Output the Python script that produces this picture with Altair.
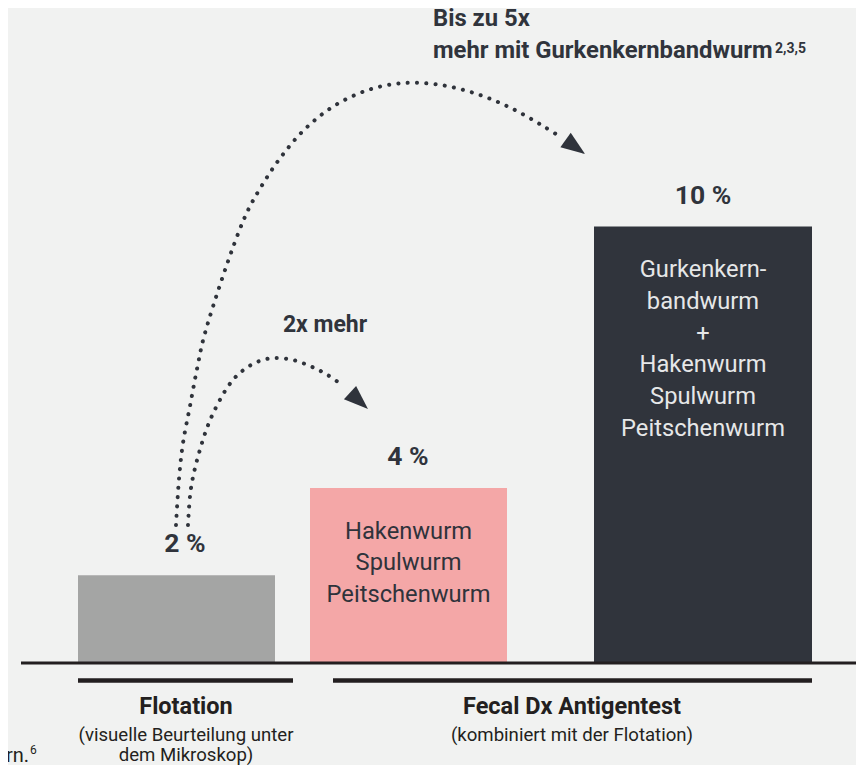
import altair as alt
import pandas as pd

# ---------------- data ----------------
categories = ["Flotation", "Fecal Dx (Haken-, Spul-, Peitschenwurm)", "Fecal Dx (+ Gurkenkernbandwurm)"]
values = [2, 4, 10]
value_labels = ["2 %", "4 %", "10 %"]
bar_lines = [
    [],
    ["Hakenwurm", "Spulwurm", "Peitschenwurm"],
    ["Gurkenkern-", "bandwurm", "+", "Hakenwurm", "Spulwurm", "Peitschenwurm"],
]
group_titles = ["Flotation", "Fecal Dx Antigentest"]
group_subtitles = [["(visuelle Beurteilung unter", "dem Mikroskop)"], ["(kombiniert mit der Flotation)"]]
note_big = ["Bis zu 5x", "mehr mit Gurkenkernbandwurm"]
note_big_refs = "2,3,5"
note_small = "2x mehr"
footnote_tail = "rn."
footnote_ref = "6"

# dotted arcs, traced in page pixels
big_arc_x = [176, 179, 183, 190, 197, 205, 244, 261, 281, 305, 334, 368, 404, 441, 477, 511, 543, 559]
big_arc_y = [525, 479, 443, 406, 369, 333, 219, 187, 157, 129, 106, 90, 83, 85, 94, 108, 126, 136]
small_arc_x = [188, 191, 199, 211, 229, 241, 257, 274, 293, 310, 326, 342]
small_arc_y = [525, 488, 453, 418, 385, 372, 362, 358, 360, 366, 374, 385]

# ---------------- layout (page pixels) ----------------
W, H = 848, 757
PPU = 43.6          # pixels per percentage point
ZERO_PY = 662.5     # page y of value 0
BAR_X0 = [78, 310, 594]
BAR_X1 = [275, 507, 812]
LABEL_X = [185, 408, 703]
GROUP_X0 = [78, 333]
GROUP_X1 = [293, 812]
GROUP_CX = [186, 572]

BG = "#f1f2f1"
BAR_COLORS = ["#a4a5a4", "#f4a7a7", "#30343c"]
DARK = "#30343c"
INK = "#231f20"
FONT = "Roboto"


def vy(py):
    """page pixel y -> value units"""
    return (ZERO_PY - py) / PPU


xs = alt.Scale(domain=[8, 8 + W], nice=False, zero=False)
ys = alt.Scale(domain=[vy(8 + H), vy(8)], nice=False, zero=False)
X = lambda f: alt.X(f, type="quantitative", scale=xs, axis=None)
Y = lambda f: alt.Y(f, type="quantitative", scale=ys, axis=None)

bars_df = pd.DataFrame({
    "category": categories, "value": values, "label": value_labels,
    "x0": BAR_X0, "x1": BAR_X1, "lx": LABEL_X, "base": 0,
    "cx": [(a + b) / 2 for a, b in zip(BAR_X0, BAR_X1)],
})

bars = alt.Chart(bars_df).mark_rect().encode(
    x=X("x0"), x2="x1", y=Y("value"), y2="base",
    color=alt.Color("category:N", scale=alt.Scale(domain=categories, range=BAR_COLORS), legend=None),
)

val_text = alt.Chart(bars_df).mark_text(
    font=FONT, fontSize=26.5, fontWeight="bold", color=DARK, baseline="alphabetic", align="center", dy=-23
).encode(x=X("lx"), y=Y("value"), text="label:N")

inner_df = pd.DataFrame({
    "lines": bar_lines[1:], "value": values[1:], "cx": bars_df["cx"][1:].tolist(),
    "category": categories[1:],
})
inner_text = alt.Chart(inner_df).mark_text(
    font=FONT, fontSize=23.7, baseline="alphabetic", align="center", dy=50.5, lineHeight=31.8
).encode(
    x=X("cx"), y=Y("value"), text="lines",
    color=alt.Color("category:N", scale=alt.Scale(domain=categories[1:], range=["#2f333b", "#e6e7e8"]), legend=None),
)

base_df = pd.DataFrame({"x0": [21], "x1": [8 + W + 20], "y": [vy(663)]})
baseline = alt.Chart(base_df).mark_rule(color=INK, strokeWidth=3).encode(x=X("x0"), x2="x1", y=Y("y"))

grp_df = pd.DataFrame({
    "x0": GROUP_X0, "x1": GROUP_X1, "y": [vy(680.5)] * 2, "cx": GROUP_CX,
    "title": group_titles, "sub": group_subtitles,
    "ty": [vy(714)] * 2, "sy": [vy(740.5)] * 2,
})
grp_rules = alt.Chart(grp_df).mark_rule(color=INK, strokeWidth=4.3).encode(x=X("x0"), x2="x1", y=Y("y"))
grp_titles = alt.Chart(grp_df).mark_text(
    font=FONT, fontSize=23.5, fontWeight="bold", color=INK, baseline="alphabetic", align="center"
).encode(x=X("cx"), y=Y("ty"), text="title:N")
grp_subs = alt.Chart(grp_df).mark_text(
    font=FONT, fontSize=18.6, color=INK, baseline="alphabetic", align="center", lineHeight=20.5
).encode(x=X("cx"), y=Y("sy"), text="sub")

note_df = pd.DataFrame({"t": [note_big], "x": [433], "y": [vy(26)]})
note_text = alt.Chart(note_df).mark_text(
    font=FONT, fontSize=23.8, fontWeight="bold", color=DARK, baseline="alphabetic", align="left", lineHeight=32
).encode(x=X("x"), y=Y("y"), text="t")
ref_df = pd.DataFrame({"t": [note_big_refs], "x": [775], "y": [vy(53)]})
ref_text = alt.Chart(ref_df).mark_text(
    font=FONT, fontSize=14, fontWeight="bold", color=DARK, baseline="alphabetic", align="left"
).encode(x=X("x"), y=Y("y"), text="t:N")

small_df = pd.DataFrame({"t": [note_small], "x": [325], "y": [vy(332)]})
small_text = alt.Chart(small_df).mark_text(
    font=FONT, fontSize=23, fontWeight="bold", color=DARK, baseline="alphabetic", align="center"
).encode(x=X("x"), y=Y("y"), text="t:N")

foot_df = pd.DataFrame({"t": [footnote_tail], "x": [29], "y": [vy(762)]})
foot_text = alt.Chart(foot_df).mark_text(
    font=FONT, fontSize=20, color=INK, baseline="alphabetic", align="right"
).encode(x=X("x"), y=Y("y"), text="t:N")
foot_ref_df = pd.DataFrame({"t": [footnote_ref], "x": [30], "y": [vy(754)]})
foot_ref = alt.Chart(foot_ref_df).mark_text(
    font=FONT, fontSize=12, color=INK, baseline="alphabetic", align="left"
).encode(x=X("x"), y=Y("y"), text="t:N")

arc_rows = []
for i, (px, py) in enumerate(zip(big_arc_x, big_arc_y)):
    arc_rows.append({"arc": "big", "i": i, "x": px, "y": vy(py)})
for i, (px, py) in enumerate(zip(small_arc_x, small_arc_y)):
    arc_rows.append({"arc": "small", "i": i, "x": px, "y": vy(py)})
arc_df = pd.DataFrame(arc_rows)
arcs = alt.Chart(arc_df).mark_line(
    interpolate="catmull-rom", strokeDash=[0.1, 9.2], strokeCap="round", strokeWidth=4, color="#2f333b"
).encode(x=X("x"), y=Y("y"), detail="arc:N", order="i:Q")

ARROW = "M 1 0 L -1 -0.74 L -1 0.74 Z"
big_head = alt.Chart(pd.DataFrame({"x": [575.3], "y": [vy(147)]})).mark_point(
    shape=ARROW, filled=True, size=576, angle=35.7, color="#2f333b", opacity=1, strokeWidth=0
).encode(x=X("x"), y=Y("y"))
small_head = alt.Chart(pd.DataFrame({"x": [359], "y": [vy(400.8)]})).mark_point(
    shape=ARROW, filled=True, size=595, angle=42.5, color="#2f333b", opacity=1, strokeWidth=0
).encode(x=X("x"), y=Y("y"))

chart = alt.layer(
    bars, baseline, grp_rules, val_text, inner_text, grp_titles, grp_subs,
    note_text, ref_text, small_text, foot_text, foot_ref, arcs, big_head, small_head,
).resolve_scale(color="independent").properties(
    width=W, height=H, padding=0, autosize=alt.AutoSizeParams(type="none"), background=BG,
).configure_view(stroke=None)

chart.save("out.html", embed_options={"renderer": "svg", "actions": False})
